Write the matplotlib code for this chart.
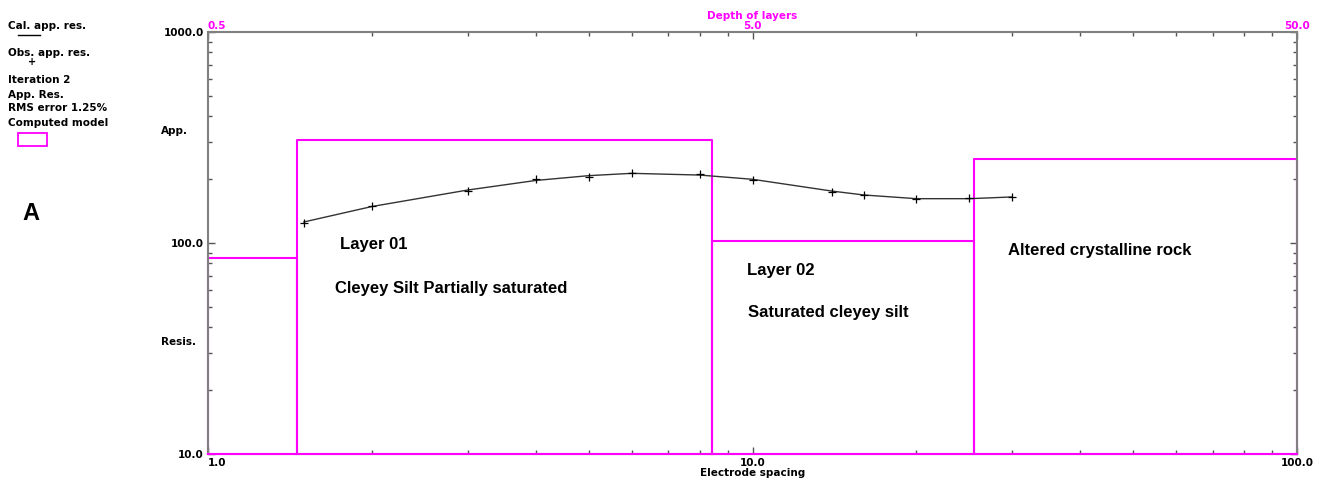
import numpy as np
import matplotlib.pyplot as plt
from matplotlib.patches import Rectangle

W, H = 1328, 482

# sounding curve (electrode spacing AB/2, apparent resistivity)
spacing = [1.5, 2, 3, 4, 5, 6, 8, 10, 14, 16, 20, 25, 30]
obs_res = [124.8, 149.7, 175.8, 200.4, 206.2, 215.3, 211.6, 198.9, 175.0, 168.9, 161.6, 162.8, 164.6]
cal_res = [125.8, 148.9, 178.3, 197.9, 208.5, 213.9, 209.9, 200.4, 176.2, 168.9, 162.2, 162.2, 165.3]

# computed model: depth to layer bottoms and layer resistivities
layer_depth = [0.73, 4.21, 12.76]
layer_res = [85, 308, 102, 250]

MAG = '#ff00ff'
SMALL_FONT = 'DejaVu Sans'
plt.rcParams['font.family'] = ['Liberation Sans', 'DejaVu Sans']

def fx(px):
    return px / W

def fy(py):
    return 1 - py / H

fig = plt.figure(figsize=(W / 100, H / 100), dpi=100)
ax = fig.add_axes([fx(208), fy(454), fx(1297) - fx(208), fy(32) - fy(454)])
ax.set_xscale('log')
ax.set_yscale('log')
ax.set_xlim(1, 100)
ax.set_ylim(10, 1000)

# model boxes (depth -> spacing = 2*depth)
edges = [ax.get_xlim()[0]] + [2 * d for d in layer_depth] + [ax.get_xlim()[1]]
for i, rho in enumerate(layer_res):
    x0, x1 = edges[i], edges[i + 1]
    ax.plot([x0, x0, x1, x1], [10, rho, rho, 10], color=MAG, lw=1.5,
            zorder=2, clip_on=False)
ax.plot(ax.get_xlim(), [10, 10], color=MAG, lw=1.5, zorder=3, clip_on=False)

# curves
ax.plot(spacing, cal_res, color='#333333', lw=1.0, zorder=4)
ax.plot(spacing, obs_res, ls='none', marker='+', ms=6, mew=0.9, color='black', zorder=5)

# frame and ticks
for s in ax.spines.values():
    s.set_color('#808080')
    s.set_linewidth(1.5)
ax.set_xticks([1, 10, 100])
ax.set_xticklabels(['1.0', '10.0', '100.0'])
ax.set_yticks([10, 100, 1000])
ax.set_yticklabels(['10.0', '100.0', '1000.0'])
ax.tick_params(which='both', direction='in', top=True, right=True, color='#555555',
               labelsize=7.5, pad=3)
ax.tick_params(which='major', length=5, width=1)
ax.tick_params(which='minor', length=3, width=1)
for t in ax.get_xticklabels() + ax.get_yticklabels():
    t.set_fontweight('bold')
    t.set_family(SMALL_FONT)
ax.get_xticklabels()[0].set_ha('left')
ax.set_xlabel('Electrode spacing', fontsize=7.5, fontweight='bold', family=SMALL_FONT, labelpad=0)

# top axis: depth of layers
sec = ax.secondary_xaxis('top', functions=(lambda x: x / 2, lambda d: d * 2))
sec.set_xticks([0.5, 5, 50])
sec.set_xticks([], minor=True)
sec.set_xticklabels(['0.5', '5.0', '50.0'])
sec.tick_params(length=0, labelsize=7.5, labelcolor=MAG, pad=1)
for t in sec.get_xticklabels():
    t.set_fontweight('bold')
    t.set_family(SMALL_FONT)
sec.get_xticklabels()[0].set_ha('left')
sec.spines['top'].set_visible(False)
sec.set_xlabel('Depth of layers', fontsize=7.5, fontweight='bold', family=SMALL_FONT,
               color=MAG, labelpad=1)

# y-axis side captions
cap = dict(fontsize=7.5, fontweight='bold', family=SMALL_FONT, ha='center', va='center')
fig.text(fx(174), fy(131), 'App.', **cap)
fig.text(fx(179), fy(342), 'Resis.', **cap)

# legend block on the left
small = dict(fontsize=7.5, fontweight='bold', family=SMALL_FONT, ha='left', va='center')
fig.text(fx(8), fy(26), 'Cal. app. res.', **small)
fig.add_artist(plt.Line2D([fx(18), fx(40)], [fy(35), fy(35)], color='black', lw=1))
fig.text(fx(8), fy(53), 'Obs. app. res.', **small)
fig.text(fx(32), fy(62), '+', fontsize=7, fontweight='bold', family=SMALL_FONT,
         ha='center', va='center')
fig.text(fx(8), fy(80), 'Iteration 2', **small)
fig.text(fx(8), fy(95), 'App. Res.', **small)
fig.text(fx(8), fy(108), 'RMS error 1.25%', **small)
fig.text(fx(8), fy(123), 'Computed model', **small)
fig.add_artist(Rectangle((fx(18), fy(146)), fx(47) - fx(18), fy(133) - fy(146),
                         fill=False, edgecolor=MAG, lw=1.3, transform=fig.transFigure))
fig.text(fx(22), fy(213), 'A', fontsize=17, fontweight='bold', ha='left', va='center')

# layer annotations
big = dict(fontsize=12, fontweight='bold', ha='left', va='center', transform=fig.transFigure)
ax.text(fx(340), fy(244), 'Layer 01', **big)
ax.text(fx(335), fy(288), 'Cleyey Silt Partially saturated', **big)
ax.text(fx(747), fy(270), 'Layer 02', **big)
ax.text(fx(748), fy(313), 'Saturated cleyey silt', **big)
ax.text(fx(1008), fy(250), 'Altered crystalline rock', **big)

fig.savefig('out.png', dpi=100)
